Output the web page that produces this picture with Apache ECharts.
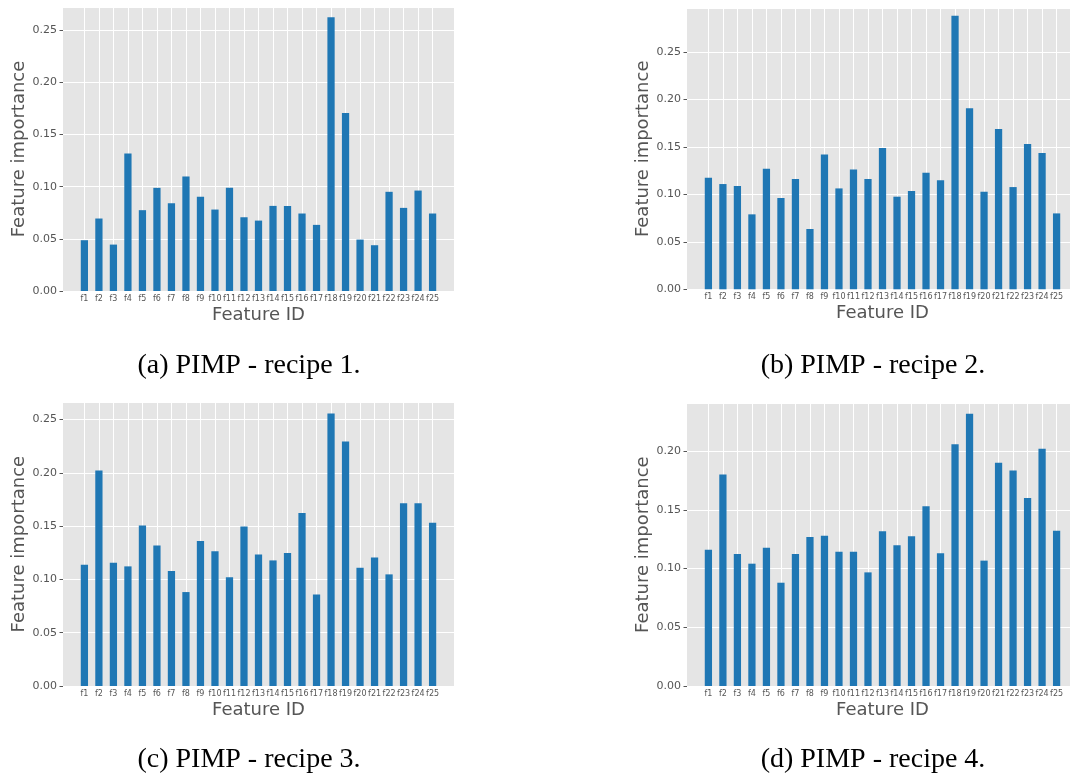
<!DOCTYPE html>
<html><head><meta charset="utf-8">
<script src="https://cdn.jsdelivr.net/npm/echarts@6/dist/echarts.min.js"></script>
<style>html,body{margin:0;padding:0;background:#fff}#c{width:1070px;height:780px}</style>
</head><body><div id="c"></div>
<script>
const categories = ['f1','f2','f3','f4','f5','f6','f7','f8','f9','f10','f11','f12','f13','f14','f15','f16','f17','f18','f19','f20','f21','f22','f23','f24','f25'];
const recipe1 = [0.0487,0.0695,0.0445,0.1319,0.0775,0.0989,0.0842,0.1098,0.0903,0.0781,0.0989,0.0707,0.0675,0.0816,0.0816,0.0743,0.0634,0.2625,0.1706,0.0493,0.0439,0.0951,0.0797,0.0963,0.0743];
const recipe2 = [0.1175,0.1108,0.1087,0.0789,0.1269,0.0961,0.1161,0.0635,0.1420,0.1062,0.1262,0.1161,0.1487,0.0975,0.1034,0.1227,0.1147,0.2879,0.1907,0.1027,0.1687,0.1076,0.1529,0.1434,0.0799];
const recipe3 = [0.1138,0.2022,0.1156,0.1122,0.1506,0.1319,0.1078,0.0881,0.1359,0.1263,0.1019,0.1497,0.1234,0.1178,0.1247,0.1622,0.0859,0.2556,0.2294,0.1109,0.1206,0.1047,0.1713,0.1713,0.1531];
const recipe4 = [0.1160,0.1799,0.1123,0.1041,0.1177,0.0879,0.1123,0.1268,0.1279,0.1143,0.1143,0.0967,0.1316,0.1197,0.1274,0.1529,0.1129,0.2057,0.2318,0.1067,0.1901,0.1835,0.1600,0.2020,0.1322];
const captions = ['(a) PIMP - recipe 1.','(b) PIMP - recipe 2.','(c) PIMP - recipe 3.','(d) PIMP - recipe 4.'];
const yTickStep = 0.05;
const yAxisTitle = 'Feature importance';
const xAxisTitle = 'Feature ID';

const step = 14.508;
const panels = [
  {data: recipe1, left: 63,  top: 7,     height: 284,   yMax: 0.2723, capX: 249, capY: 352},
  {data: recipe2, left: 687, top: 8.3,   height: 281,   yMax: 0.2958, capX: 873, capY: 352},
  {data: recipe3, left: 63,  top: 402.3, height: 283.7, yMax: 0.2661, capX: 249, capY: 746},
  {data: recipe4, left: 687, top: 403.3, height: 282.7, yMax: 0.2406, capX: 873, capY: 746}
];
const FONT = 'DejaVu Sans';
const grid = [], xAxis = [], yAxis = [], series = [], title = [];
panels.forEach((p, i) => {
  const outerW = 26.95 * step;
  grid.push({left: p.left, top: p.top, width: outerW, height: p.height, show: true,
    backgroundColor: '#E5E5E5', borderWidth: 0, containLabel: false});
  grid.push({left: p.left + 0.975 * step, top: p.top, width: 25 * step, height: p.height, containLabel: false});
  xAxis.push({gridIndex: 2*i, type: 'value', min: 0, max: 1, show: false});
  xAxis.push({gridIndex: 2*i+1, type: 'category', data: categories,
    axisLine: {show: false}, axisTick: {show: false},
    axisLabel: {interval: 0, fontSize: 8, color: '#555', margin: 4, fontFamily: FONT},
    splitLine: {show: true, interval: 0, alignWithLabel: true, lineStyle: {color: '#fff', width: 1}},
    name: xAxisTitle, nameLocation: 'middle', nameGap: 15,
    nameTextStyle: {fontSize: 18, color: '#555', fontFamily: FONT}});
  yAxis.push({gridIndex: 2*i, type: 'value', min: 0, max: p.yMax, interval: yTickStep,
    axisLine: {show: false},
    axisTick: {show: true, length: 3.5, lineStyle: {color: '#555', width: 1}},
    axisLabel: {fontSize: 11, color: '#555', margin: 6, fontFamily: FONT, showMaxLabel: false,
      formatter: v => v.toFixed(2)},
    splitLine: {show: true, lineStyle: {color: '#fff', width: 1}},
    name: yAxisTitle, nameLocation: 'middle', nameGap: 34, nameRotate: 90,
    nameTextStyle: {fontSize: 18, color: '#555', fontFamily: FONT}});
  yAxis.push({gridIndex: 2*i+1, type: 'value', min: 0, max: p.yMax, show: false});
  series.push({type: 'bar', xAxisIndex: 2*i+1, yAxisIndex: 2*i+1, data: p.data,
    barWidth: '50%', itemStyle: {color: '#1f77b4'}, silent: true});
  title.push({text: captions[i], left: p.capX, top: p.capY, textAlign: 'center', padding: 0,
    textStyle: {fontFamily: 'Liberation Serif', fontSize: 28, fontWeight: 'normal', color: '#000'}});
});
const chart = echarts.init(document.getElementById('c'), null, {renderer: 'canvas'});
chart.setOption({animation: false, title, grid, xAxis, yAxis, series});
</script>
</body></html>
